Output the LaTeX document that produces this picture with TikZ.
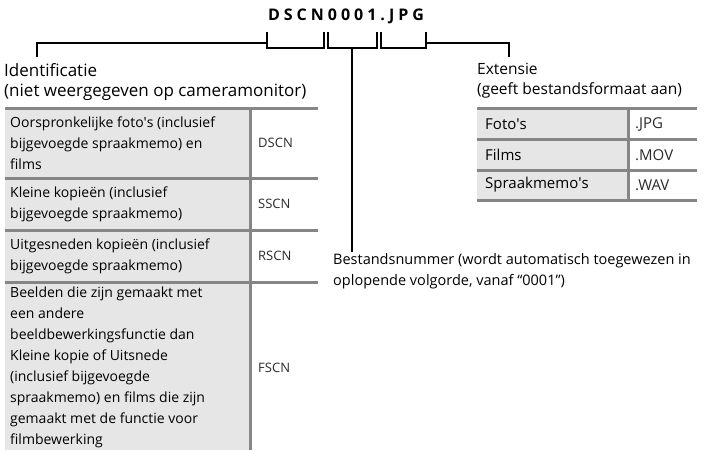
\documentclass[tikz,border=0pt]{standalone}
\usepackage{fontspec}
\setmainfont{Open Sans}
\definecolor{cellgray}{HTML}{E6E6E6}
\definecolor{rulegray}{HTML}{868686}
\definecolor{textgray}{HTML}{2A2A2A}
\begin{document}
\begin{tikzpicture}[x=1pt,y=-1pt,
  brk/.style={line width=2pt, black},
  tline/.style={line width=3pt, rulegray},
  lab/.style={inner sep=0pt, anchor=north west, align=left},
  cell/.style={inner sep=0pt, anchor=west, align=left, font=\fontsize{14}{21}\selectfont},
  code/.style={inner sep=0pt, anchor=west, text=textgray, font=\fontsize{13}{21}\selectfont},
  rcell/.style={inner sep=0pt, anchor=west, font=\fontsize{15}{21}\selectfont}]
\useasboundingbox (0,0) rectangle (722,450);
% title
\node[inner sep=0pt, font=\fontsize{16}{18}\selectfont\bfseries\addfontfeature{LetterSpace=25}] (title) at (346,16) {DSCN0001.JPG};
% bracket coordinates
\coordinate (a1) at (267,32); \coordinate (a2) at (324,32);
\coordinate (b1) at (327.5,32); \coordinate (b2) at (376.5,32);
\coordinate (c1) at (380.5,32); \coordinate (c2) at (426,32);
\draw[brk] (a1) -- ++(0,16) -- ++(57,0) -- (a2);
\draw[brk] (b1) -- ++(0,16) -- ++(49,0) -- (b2);
\draw[brk] (c1) -- ++(0,16) -- ++(45.5,0) -- (c2);
\coordinate (am) at (267,43);
\coordinate (bm) at (352,48);
\coordinate (cm) at (426,43);
% labels
\node[lab, font=\fontsize{17}{20.5}\selectfont] (idlab) at (4,63) {Identificatie\\(niet weergegeven op cameramonitor)};
\node[lab, font=\fontsize{15.5}{19.5}\selectfont] (extlab) at (477,63) {Extensie\\(geeft bestandsformaat aan)};
\node[lab, font=\fontsize{14.5}{21}\selectfont] (numlab) at (333,253) {Bestandsnummer (wordt automatisch toegewezen in\\oplopende volgorde, vanaf “0001”)};
\coordinate (idtop) at (37,57);
\coordinate (exttop) at (509,57);
\coordinate (numtop) at (352,252);
\draw[brk] (am) -| (idtop);
\draw[brk] (cm) -| (exttop);
\draw[brk] (bm) -- (numtop);
% left table
\fill[cellgray] (5,108) rectangle (250,450);
\draw[tline] (5,108) -- (318,108);
\draw[tline] (5,178) -- (318,178);
\draw[tline] (5,230) -- (318,230);
\draw[tline] (5,282) -- (318,282);
\draw[tline] (250.5,106.5) -- (250.5,450);
\node[cell] (r1) at (10,143) {Oorspronkelijke foto\textquotesingle s (inclusief\\bijgevoegde spraakmemo) en\\films};
\node[cell] (r2) at (10,204) {Kleine kopieën (inclusief\\bijgevoegde spraakmemo)};
\node[cell] (r3) at (10,256) {Uitgesneden kopieën (inclusief\\bijgevoegde spraakmemo)};
\node[cell, anchor=north west] (r4) at (10,287) {Beelden die zijn gemaakt met\\een andere\\beeldbewerkingsfunctie dan\\Kleine kopie of Uitsnede\\(inclusief bijgevoegde\\spraakmemo) en films die zijn\\gemaakt met de functie voor\\filmbewerking};
\node[code] (c1t) at (258,143) {DSCN};
\node[code] (c2t) at (258,204) {SSCN};
\node[code] (c3t) at (258,256) {RSCN};
\node[code] (c4t) at (258,368) {FSCN};
% right table
\fill[cellgray] (477,108) rectangle (628,200);
\foreach \yy in {108,139,170,200} \draw[tline] (477,\yy) -- (697,\yy);
\draw[tline] (628.5,106.5) -- (628.5,201.5);
\node[rcell] (e1) at (485,124) {Foto\textquotesingle s};
\node[rcell] (e2) at (485,155) {Films};
\node[rcell] (e3) at (485,185) {Spraakmemo\textquotesingle s};
\node[rcell, text=textgray] (x1) at (635,124) {.JPG};
\node[rcell, text=textgray] (x2) at (635,155) {.MOV};
\node[rcell, text=textgray] (x3) at (635,185) {.WAV};
\end{tikzpicture}
\end{document}
